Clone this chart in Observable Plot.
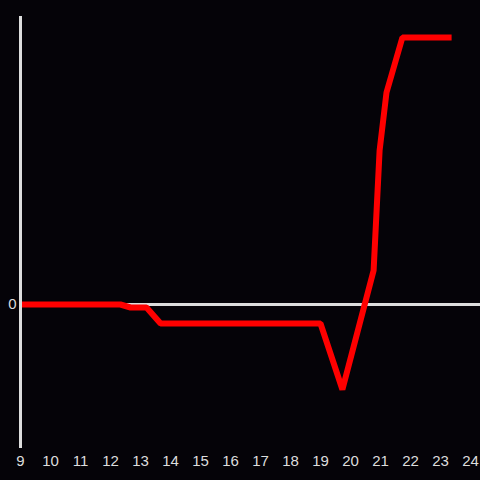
<!DOCTYPE html>
<html>
<head>
<meta charset="utf-8">
<script src="https://cdn.jsdelivr.net/npm/d3@7"></script>
<script src="https://cdn.jsdelivr.net/npm/@observablehq/plot@0.6"></script>
<style>
  html, body { margin: 0; padding: 0; background: #050308; }
  #chart { width: 480px; height: 480px; }
</style>
</head>
<body>
<div id="chart"></div>
<script>
const xs = [9, 12.33, 12.67, 13.2, 13.67, 19.0, 19.73, 20.77, 20.97, 21.2, 21.73, 23.37];
const ys = [0, 0, -3, -3, -19, -19, -85, 34, 154, 212, 267, 267];
const xTicks = [9, 10, 11, 12, 13, 14, 15, 16, 17, 18, 19, 20, 21, 22, 23, 24];
const yTicks = [0];

const data = xs.map((x, i) => ({x, y: ys[i]}));

const chart = Plot.plot({
  width: 480,
  height: 480,
  marginTop: 16,
  marginBottom: 32,
  marginLeft: 20,
  marginRight: 0,
  style: {background: "#050308", color: "#dddddd", fontFamily: "Liberation Sans, Arial, sans-serif", fontSize: "15px"},
  x: {domain: [9, 24 + 1/3], label: null},
  y: {domain: [-144, 288], label: null},
  marks: [
    Plot.ruleY([0], {stroke: "#dddddd", strokeWidth: 3}),
    Plot.line(data, {x: "x", y: "y", stroke: "#ff0000", strokeWidth: 6, strokeLinejoin: "miter", strokeLinecap: "butt"}),
    Plot.ruleX([9], {stroke: "#dddddd", strokeWidth: 3}),
    Plot.axisX({ticks: xTicks, tickSize: 0, tickPadding: 7, tickFormat: d => String(d), fill: "#dddddd", fontSize: 15, label: null}),
    Plot.axisY({ticks: yTicks, tickSize: 0, tickPadding: 4, tickFormat: d => String(d), fill: "#dddddd", fontSize: 15, label: null})
  ]
});
document.getElementById("chart").appendChild(chart);
</script>
</body>
</html>
